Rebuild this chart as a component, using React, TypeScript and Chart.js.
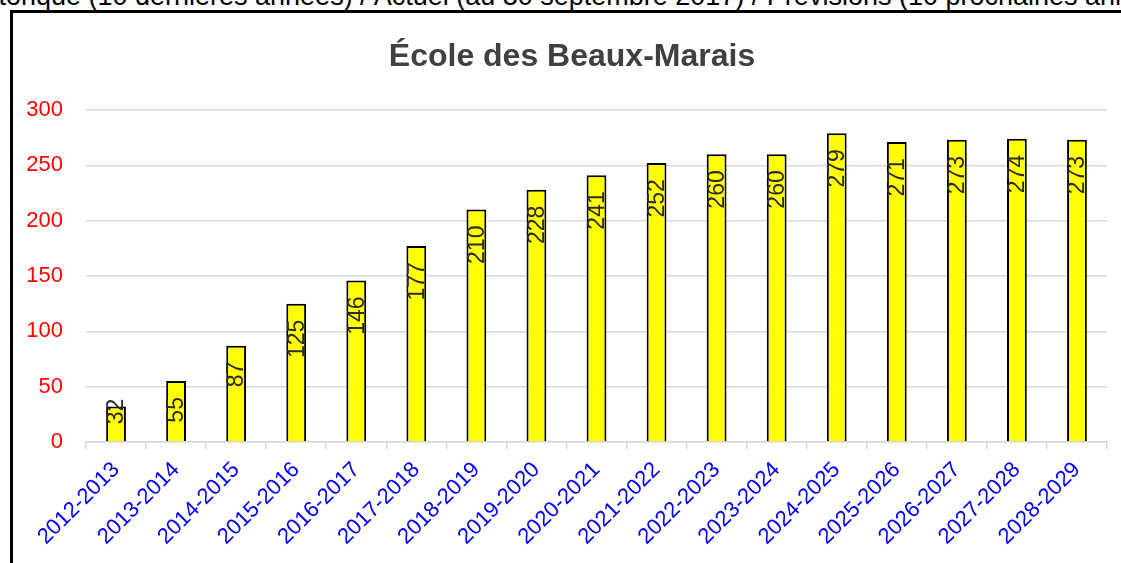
import React, { useEffect, useRef } from "react";
import { Chart, registerables } from "chart.js";

Chart.register(...registerables);

const categories = [
  "2012-2013", "2013-2014", "2014-2015", "2015-2016", "2016-2017", "2017-2018",
  "2018-2019", "2019-2020", "2020-2021", "2021-2022", "2022-2023", "2023-2024",
  "2024-2025", "2025-2026", "2026-2027", "2027-2028", "2028-2029",
];
const effectifs = [32, 55, 87, 125, 146, 177, 210, 228, 241, 252, 260, 260, 279, 271, 273, 274, 273];
const chartTitle = "École des Beaux-Marais";
const topCaption =
  "Historique (10 dernières années) / Actuel (au 30 septembre 2017) / Prévisions (10 prochaines années)";

const FONT = "'Liberation Sans', Arial, sans-serif";

const barLabels = {
  id: "barLabels",
  afterDatasetsDraw(chart: any) {
    const ctx = chart.ctx;
    const meta = chart.getDatasetMeta(0);
    const data = chart.data.datasets[0].data;
    ctx.save();
    ctx.font = `23px ${FONT}`;
    ctx.fillStyle = "#2b2b2b";
    meta.data.forEach((el: any, i: number) => {
      const txt = String(data[i]);
      const w = ctx.measureText(txt).width;
      const endY = Math.min(el.y + 16, el.base - 17 - w);
      ctx.save();
      ctx.translate(el.x, endY);
      ctx.rotate(-Math.PI / 2);
      ctx.textAlign = "right";
      ctx.textBaseline = "middle";
      ctx.fillText(txt, 0, 1);
      ctx.restore();
    });
    ctx.restore();
  },
};

const chartTitlePlugin = {
  id: "chartTitlePlugin",
  afterDraw(chart: any) {
    const ctx = chart.ctx;
    ctx.save();
    ctx.font = `bold 32px ${FONT}`;
    ctx.fillStyle = "#404040";
    ctx.textAlign = "center";
    ctx.textBaseline = "middle";
    ctx.fillText(chartTitle, 559, 44);
    ctx.restore();
  },
};

export default function App() {
  const ref = useRef<HTMLCanvasElement>(null);
  useEffect(() => {
    if (!ref.current) return;
    const chart = new Chart(ref.current, {
      type: "bar",
      data: {
        labels: categories,
        datasets: [
          {
            data: effectifs,
            backgroundColor: "#FFFF00",
            borderColor: "#000000",
            borderWidth: 2,
            categoryPercentage: 1,
            barPercentage: 0.33,
          },
        ],
      },
      options: {
        responsive: false,
        devicePixelRatio: 1,
        animation: false,
        layout: { padding: { left: 13, right: 26, bottom: 5, top: 97 } },
        plugins: {
          legend: { display: false },
          tooltip: { enabled: false },
          title: { display: false },
        },
        scales: {
          x: {
            offset: true,
            afterFit(scale: any) {
              scale.paddingLeft = 0;
              scale.paddingRight = 0;
            },
            grid: {
              offset: true,
              display: true,
              drawOnChartArea: false,
              drawTicks: true,
              tickLength: 7,
              color: "#d9d9d9",
              lineWidth: 1.5,
            },
            border: { display: true, color: "#d9d9d9", width: 1.5 },
            ticks: {
              color: "#0000FF",
              font: { family: FONT, size: 22 },
              maxRotation: 45,
              minRotation: 45,
              autoSkip: false,
              padding: 8,
            },
          },
          y: {
            min: 0,
            max: 300,
            afterFit(scale: any) {
              scale.width = 60;
            },
            grid: { color: "#d9d9d9", lineWidth: 1.5, drawTicks: false },
            border: { display: false },
            ticks: {
              stepSize: 50,
              color: "#FF0000",
              font: { family: FONT, size: 22 },
              padding: 23,
            },
          },
        },
      },
      plugins: [barLabels, chartTitlePlugin],
    });
    return () => chart.destroy();
  }, []);

  return (
    <div
      style={{
        position: "fixed",
        left: 0,
        top: 0,
        width: 1121,
        height: 563,
        overflow: "hidden",
        background: "#ffffff",
      }}
    >
      <div
        style={{
          position: "absolute",
          left: 571,
          top: -17,
          transform: "translateX(-50%)",
          whiteSpace: "nowrap",
          fontFamily: FONT,
          fontSize: 27,
          lineHeight: "27px",
          color: "#000000",
        }}
      >
        {topCaption}
      </div>
      <div
        style={{
          position: "absolute",
          left: 10,
          top: 10,
          width: 1200,
          height: 700,
          border: "3px solid #000000",
          boxSizing: "border-box",
        }}
      />
      <canvas
        ref={ref}
        width={1120}
        height={550}
        style={{ position: "absolute", left: 13, top: 13, width: 1120, height: 550 }}
      />
    </div>
  );
}
